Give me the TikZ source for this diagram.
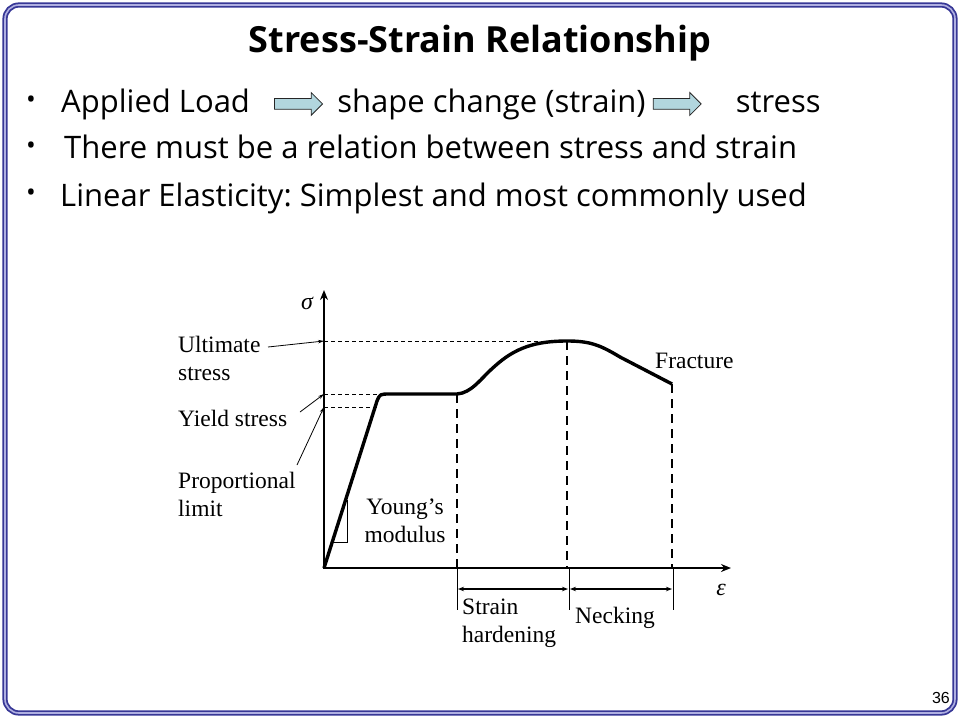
\documentclass[tikz,border=0pt]{standalone}
\usepackage{fontspec}
\setmainfont{Liberation Serif}
\newfontfamily\slidefont{Open Sans}
\newfontfamily\pagefont{Liberation Sans}
\usetikzlibrary{positioning,shapes.arrows,arrows.meta}
\definecolor{framecol}{RGB}{55,55,150}
\definecolor{framein}{RGB}{175,175,225}
\definecolor{arrowfill}{RGB}{178,214,222}
\frenchspacing

\begin{document}
\begin{tikzpicture}[x=1pt,y=-1pt,
    slide/.style={font=\slidefont\fontsize{31}{38}\selectfont, anchor=base west, inner sep=0pt},
    dot/.style={font=\slidefont\fontsize{26}{30}\selectfont, inner sep=0pt},
    loadarrow/.style={single arrow, draw=black!85, fill=arrowfill, line width=0.8pt,
      minimum height=48pt, inner sep=5pt, single arrow head extend=6pt},
    lbl/.style={font=\fontsize{23.5}{28}\selectfont, align=left, anchor=north west, inner sep=0pt},
    axis/.style={line width=2.8pt, -{Stealth[length=10pt,width=8pt]}},
    curve/.style={line width=3.4pt, line join=round},
    level/.style={line width=0.8pt, dash pattern=on 4pt off 3pt},
    bound/.style={line width=2.6pt, dash pattern=on 9pt off 6pt},
    span/.style={line width=1.5pt, {Stealth[length=6pt,width=4.5pt]}-{Stealth[length=6pt,width=4.5pt]}},
    lead/.style={line width=0.8pt, -{Stealth[length=6pt,width=3.5pt]}}]
  \useasboundingbox (0,0) rectangle (960,720);
  \draw[framecol, line width=1.8pt, double=framein, double distance=1.6pt, rounded corners=14pt]
    (5,5) rectangle (955,713);
  \node[font=\pagefont\fontsize{16}{18}\selectfont, anchor=base east, inner sep=0pt] (page) at (950,703) {36};

  \node[font=\slidefont\bfseries\fontsize{36}{40}\selectfont, anchor=base, inner sep=0pt] (title) at (480,52) {Stress-Strain Relationship};

  \node[dot] (b1) at (31,102) {•};
  \node[dot] (b2) at (31,148) {•};
  \node[dot] (b3) at (31,195) {•};
  \node[slide] (load) at (61,112) {Applied Load};
  \node[loadarrow, right=24pt of load] (arr1) {};
  \node[slide] (shape) at ([xshift=14pt]arr1.east |- load.base) {shape change (strain)};
  \node[loadarrow, right=7pt of shape] (arr2) {};
  \node[slide] (stress) at ([xshift=34pt]arr2.east |- load.base) {stress};
  \node[slide] (rel) at (64,158) {There must be a relation between stress and strain};
  \node[slide] (lin) at (60,206) {Linear Elasticity: Simplest and most commonly used};

  \coordinate (O) at (324,568);
  \coordinate (ytop) at (324,290);
  \coordinate (xend) at (731,568);
  \coordinate (U) at (324,341);
  \coordinate (Y) at (324,394);
  \coordinate (P) at (324,407);
  \coordinate (pl) at (378,407);
  \coordinate (yl) at (384,394);
  \coordinate (h1) at (457,394);
  \coordinate (h2) at (567,341);
  \coordinate (h3) at (672,384);
  \coordinate (d1) at (457,610);
  \coordinate (d2) at (569,610);
  \coordinate (d3) at (673,610);

  \draw[level] (U) -- (h2);
  \draw[level] (Y) -- (yl);
  \draw[level] (P) -- (pl);
  \draw[bound] (h1) -- (h1 |- O);
  \draw[bound] (h2) -- (h2 |- O);
  \draw[bound] (h3) -- (h3 |- O);
  \draw[line width=1pt] (d1 |- O) -- (d1);
  \draw[line width=1pt] (d2 |- O) -- (d2);
  \draw[line width=1pt] (d3 |- O) -- (d3);
  \coordinate (s1) at (458,589);
  \coordinate (s2) at (568,589);
  \coordinate (s3) at (570,589);
  \coordinate (s4) at (672,589);
  \draw[span] (s1) -- (s2);
  \draw[span] (s3) -- (s4);

  \draw[curve] (O) -- (377,401) .. controls (380,394) .. (390,394) -- (h1)
    .. controls (472,393) and (481,378) .. (495,366)
    .. controls (515,348) and (535,341) .. (h2)
    .. controls (590,341) and (600,345) .. (620,357) -- (h3);
  \draw[axis] (O) -- (ytop);
  \draw[axis] ([xshift=-1.4pt]O) -- (xend);

  \draw[line width=0.9pt] (347,500) |- (333,542);

  \node[font=\itshape\fontsize{24}{26}\selectfont] (sig) at (307,303) {σ};
  \node[font=\itshape\fontsize{24}{26}\selectfont] (eps) at (721,590) {ε};
  \node[lbl] (ult) at (178,336) {Ultimate\\stress};
  \node[lbl] (yld) at (178,410) {Yield stress};
  \node[lbl] (prop) at (178,472) {Proportional\\limit};
  \node[lbl, align=center, anchor=north] (young) at (405,499) {Young’s\\modulus};
  \node[lbl] (frac) at (655,353) {Fracture};
  \node[lbl] (hard) at (462,599) {Strain\\hardening};
  \node[lbl] (neck) at (575,607) {Necking};

  \coordinate (ultend) at (268,347);
  \coordinate (yldend) at (300,412);
  \coordinate (propend) at (297,465);
  \draw[lead] (ultend) -- (U);
  \draw[lead] (yldend) -- (Y);
  \draw[lead] (propend) -- (P);
\end{tikzpicture}
\end{document}
